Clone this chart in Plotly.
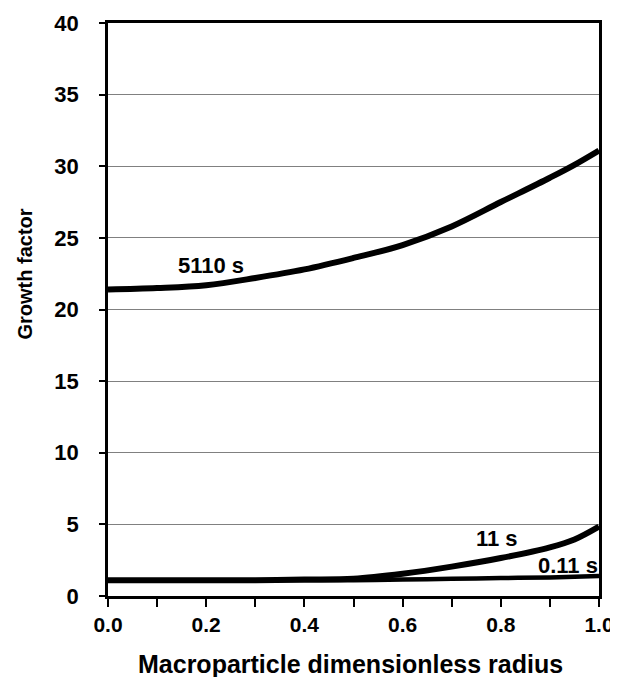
import plotly.graph_objects as go

radius = [0.0, 0.1, 0.2, 0.3, 0.4, 0.5, 0.6, 0.7, 0.8, 0.9, 0.95, 1.0]
gf_5110 = [21.4, 21.5, 21.7, 22.2, 22.8, 23.6, 24.5, 25.8, 27.5, 29.2, 30.1, 31.1]
gf_11 = [1.1, 1.1, 1.1, 1.1, 1.15, 1.2, 1.55, 2.05, 2.65, 3.4, 3.95, 4.85]
gf_011 = [1.1, 1.1, 1.1, 1.1, 1.1, 1.1, 1.15, 1.2, 1.25, 1.3, 1.35, 1.4]

labels = ["5110 s", "11 s", "0.11 s"]
label_x = [0.21, 0.792, 0.936]
label_y = [23.1, 3.98, 2.16]

xticks = [0.0, 0.2, 0.4, 0.6, 0.8, 1.0]
xticklabels = ["0.0", "0.2", "0.4", "0.6", "0.8", "1.0"]
yticks = [0, 5, 10, 15, 20, 25, 30, 35, 40]

FONT = "Liberation Sans, Arial, sans-serif"

fig = go.Figure()
fig.add_trace(go.Scatter(x=radius, y=gf_011, mode="lines", line=dict(color="black", width=4.5, shape="spline")))
fig.add_trace(go.Scatter(x=radius, y=gf_11, mode="lines", line=dict(color="black", width=6, shape="spline")))
fig.add_trace(go.Scatter(x=radius, y=gf_5110, mode="lines", line=dict(color="black", width=6, shape="spline")))

for t, lx, ly in zip(labels, label_x, label_y):
    fig.add_annotation(x=lx, y=ly, text="<b>%s</b>" % t, showarrow=False,
                       xanchor="center", yanchor="middle",
                       font=dict(family=FONT, size=22, color="black"))

fig.add_annotation(xref="paper", yref="paper", x=-0.169, y=0.561, text="<b>Growth factor</b>",
                   xanchor="center", yanchor="middle",
                   textangle=-90, showarrow=False, font=dict(family=FONT, size=20, color="black"))
fig.add_annotation(xref="paper", yref="paper", x=0.493, y=-0.119, text="<b>Macroparticle dimensionless radius</b>",
                   xanchor="center", yanchor="middle",
                   showarrow=False, font=dict(family=FONT, size=25, color="black"))

# page body has an 8px margin; the figure is sized/margined to compensate
fig.update_layout(
    width=610, height=669,
    margin=dict(l=100, r=19, t=15, b=81),
    paper_bgcolor="white", plot_bgcolor="white",
    showlegend=False,
    font=dict(family=FONT, color="black"),
)
fig.update_xaxes(
    range=[0, 1], tickvals=xticks, ticktext=["<b>%s</b>" % s for s in xticklabels],
    ticks="outside", ticklen=8, tickwidth=1.5, tickcolor="black",
    minor=dict(dtick=0.1, tick0=0, ticks="outside", ticklen=8, tickwidth=1.5, tickcolor="black"),
    showline=True, linecolor="black", linewidth=2.5, mirror=True,
    showgrid=False, zeroline=False, automargin=False,
    tickfont=dict(family=FONT, size=21, color="black"),
    ticklabelstandoff=0,
)
fig.update_yaxes(
    range=[0, 40], tickvals=yticks, ticktext=["<b>%d</b>" % v for v in yticks],
    ticks="outside", ticklen=6, tickwidth=1.5, tickcolor="black",
    showline=True, linecolor="black", linewidth=2.5, mirror=True,
    showgrid=True, gridcolor="#808080", gridwidth=1,
    zeroline=False, automargin=False,
    tickfont=dict(family=FONT, size=22, color="black"),
    ticklabelstandoff=16,
)

fig.write_html("out.html")
